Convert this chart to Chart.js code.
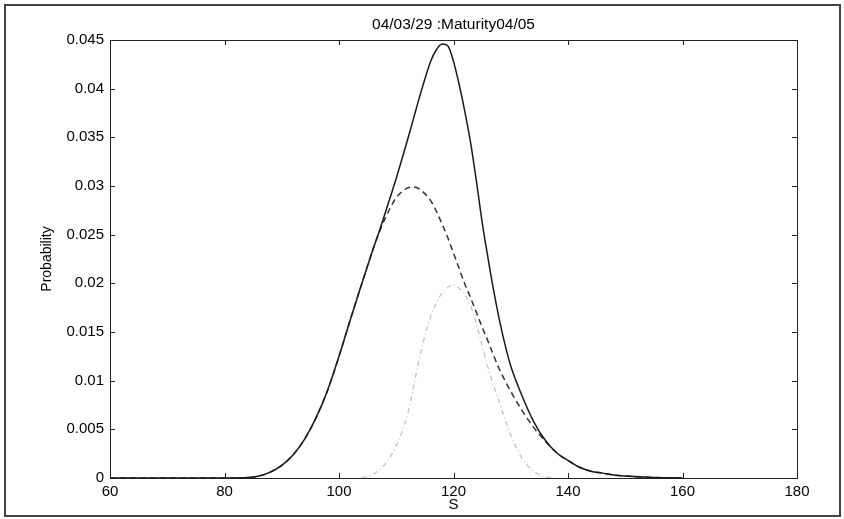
<!DOCTYPE html>
<html>
<head>
<meta charset="utf-8">
<script src="https://cdn.jsdelivr.net/npm/chart.js@4"></script>
<style>
  html, body { margin: 0; padding: 0; background: #fff; }
  canvas { display: block; }
</style>
</head>
<body>
<canvas id="chartPdf" width="844" height="519"></canvas>
<script>
const sGrid = [60, 70, 80, 82, 84, 86, 88, 90, 92, 94, 96, 98, 100, 102, 104, 106, 107, 108, 110, 112,
    113, 114, 116, 117, 118, 119, 120, 121, 122, 123, 124, 125, 126, 127, 128, 129, 130, 132, 134, 136,
    138, 140, 142, 144, 146, 148, 150, 155, 160];

const totalProb = [0, 0, 0, 0.00001, 0.00004, 0.0002, 0.0006, 0.0013, 0.0024, 0.0040, 0.0062, 0.0090,
    0.0125, 0.0163, 0.0200, 0.0236, 0.0253, 0.0271, 0.0308, 0.0348, 0.0369, 0.0390, 0.0428, 0.0440,
    0.0446, 0.0444, 0.0428, 0.0404, 0.0376, 0.0344, 0.0305, 0.0263, 0.0227, 0.0193, 0.0163, 0.0137,
    0.0115, 0.0084, 0.0058, 0.0039, 0.0026, 0.0018, 0.0011, 0.0007, 0.0005, 0.0003, 0.0002, 0.00005, 0];

const dashedProb = [0, 0, 0, 0.00001, 0.00004, 0.0002, 0.0006, 0.0013, 0.0024, 0.0040, 0.0062, 0.0090,
    0.0125, 0.0163, 0.0200, 0.0236, 0.0252, 0.0266, 0.0288, 0.0298, 0.0299, 0.0297, 0.0285, 0.0274,
    0.0261, 0.0247, 0.0231, 0.0215, 0.0199, 0.0185, 0.0170, 0.0155, 0.0141, 0.0126, 0.0112, 0.0100,
    0.0089, 0.0069, 0.0052, 0.0038, 0.0026, 0.0018, 0.0011, 0.0007, 0.0005, 0.0003, 0.0002, 0.00005, 0];

const dottedProb = [null, null, null, null, null, null, null, null, null, null, null, null, null, null,
    0, 0.0004, 0.0008, 0.0014, 0.0033, 0.0066, 0.0093, 0.0122, 0.0166, 0.0180, 0.0190, 0.0196, 0.0198,
    0.0195, 0.0188, 0.0177, 0.0158, 0.0136, 0.0114, 0.0095, 0.0078, 0.0060, 0.0044, 0.0020, 0.0007,
    0.0001, 0, null, null, null, null, null, null, null, null];

const xTicks = [60, 80, 100, 120, 140, 160, 180];
const yTicks = [0, 0.005, 0.01, 0.015, 0.02, 0.025, 0.03, 0.035, 0.04, 0.045];

const fontFamily = "'Liberation Sans', Arial, sans-serif";

function points(values) {
    return sGrid.map((s, i) => ({ x: s, y: values[i] }));
}

// page frame and the boxed axes with inward ticks
const boxAxes = {
    id: "boxAxes",
    beforeDraw(chart) {
        const ctx = chart.ctx;
        ctx.save();
        ctx.fillStyle = "#fff";
        ctx.fillRect(0, 0, chart.width, chart.height);
        ctx.strokeStyle = "#444";
        ctx.lineWidth = 2;
        ctx.strokeRect(5, 5, 835, 511);
        ctx.restore();
    },
    afterDraw(chart) {
        const { ctx, chartArea: a, scales } = chart;
        ctx.save();
        ctx.strokeStyle = "#222";
        ctx.lineWidth = 1;
        ctx.strokeRect(a.left + 0.5, a.top + 0.5, a.right - a.left, a.bottom - a.top);
        ctx.beginPath();
        scales.x.ticks.forEach((t) => {
            const px = Math.round(scales.x.getPixelForValue(t.value)) + 0.5;
            ctx.moveTo(px, a.bottom);
            ctx.lineTo(px, a.bottom - 5);
            ctx.moveTo(px, a.top);
            ctx.lineTo(px, a.top + 5);
        });
        scales.y.ticks.forEach((t) => {
            const py = Math.round(scales.y.getPixelForValue(t.value)) + 0.5;
            ctx.moveTo(a.left, py);
            ctx.lineTo(a.left + 5, py);
            ctx.moveTo(a.right, py);
            ctx.lineTo(a.right - 5, py);
        });
        ctx.stroke();
        ctx.restore();
    },
};

const config = {
    type: "line",
    data: {
        datasets: [
            {
                label: "total",
                data: points(totalProb),
                borderColor: "#1a1a1a",
                borderWidth: 1.5,
            },
            {
                label: "dashed",
                data: points(dashedProb),
                borderColor: "#333",
                borderWidth: 1.5,
                borderDash: [6, 4],
            },
            {
                label: "dotted",
                data: points(dottedProb),
                borderColor: "#c2c2c2",
                borderWidth: 1.3,
                borderDash: [5, 3, 1, 3],
            },
        ],
    },
    options: {
        responsive: false,
        animation: false,
        layout: { padding: { left: 0, right: 47, top: 0, bottom: 0 } },
        elements: {
            point: { radius: 0 },
            line: { cubicInterpolationMode: "monotone" },
        },
        plugins: {
            legend: { display: false },
            tooltip: { enabled: false },
            title: {
                display: true,
                text: "04/03/29 :Maturity04/05",
                fullSize: false,
                color: "#000",
                font: { family: fontFamily, size: 15.5, weight: "normal", lineHeight: 1.2 },
                padding: { top: 15.7, bottom: 5.7 },
            },
        },
        scales: {
            x: {
                type: "linear",
                min: 60,
                max: 180,
                grid: { display: false, drawTicks: false },
                border: { display: false },
                afterBuildTicks: (scale) => { scale.ticks = xTicks.map((v) => ({ value: v })); },
                afterFit: (scale) => { scale.height = 41; },
                ticks: {
                    color: "#000",
                    padding: 5,
                    maxRotation: 0,
                    font: { family: fontFamily, size: 15 },
                },
                title: {
                    display: true,
                    text: "S",
                    color: "#000",
                    font: { family: fontFamily, size: 15, lineHeight: 1.2 },
                    padding: { top: 0, bottom: 5 },
                },
            },
            y: {
                min: 0,
                max: 0.045,
                grid: { display: false, drawTicks: false },
                border: { display: false },
                afterBuildTicks: (scale) => { scale.ticks = yTicks.map((v) => ({ value: v })); },
                afterFit: (scale) => { scale.width = 110; },
                ticks: {
                    color: "#000",
                    padding: 6,
                    font: { family: fontFamily, size: 15 },
                    callback: (v) => String(v),
                },
                title: {
                    display: true,
                    text: "Probability",
                    color: "#000",
                    font: { family: fontFamily, size: 14, lineHeight: 1.2 },
                    padding: { top: 39, bottom: 0 },
                },
            },
        },
    },
    plugins: [boxAxes],
};

new Chart(document.getElementById("chartPdf"), config);
</script>
</body>
</html>
